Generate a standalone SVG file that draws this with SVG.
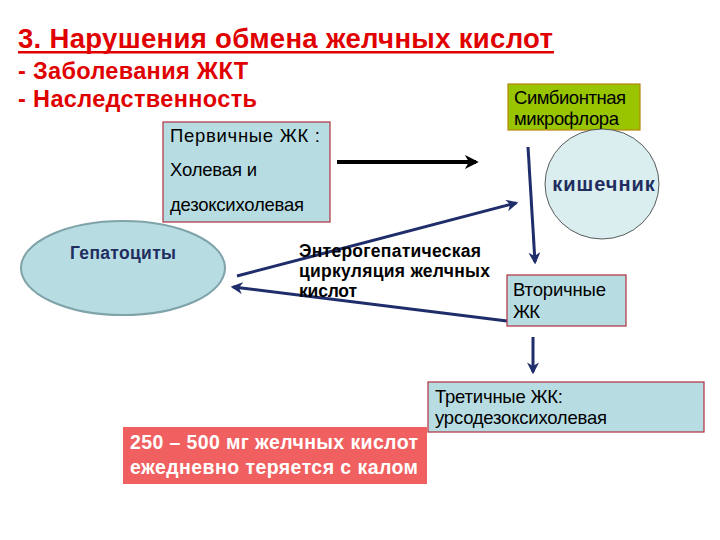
<svg xmlns="http://www.w3.org/2000/svg" width="720" height="540" viewBox="0 0 720 540">
<style>
.red{font-family:"Liberation Sans",Arial,sans-serif;font-weight:bold;fill:#e00000}
.t{font-family:"Liberation Sans",Arial,sans-serif;font-size:18.5px;fill:#000}
.b{font-family:"Liberation Sans",Arial,sans-serif;font-weight:bold}
.box{fill:#b7dde3;stroke:#b03040;stroke-width:1.2}
.nav{stroke:#1f2d6b;stroke-width:3;fill:none}
</style>
<defs>
<marker id="an" viewBox="0 0 10 10" refX="8" refY="5" markerWidth="4" markerHeight="4" orient="auto" markerUnits="strokeWidth"><path d="M0,0 L10,5 L0,10 L3,5 z" fill="#1f2d6b"/></marker>
<marker id="ab" viewBox="0 0 10 10" refX="8" refY="5" markerWidth="3.5" markerHeight="3.5" orient="auto" markerUnits="strokeWidth"><path d="M0,0 L10,5 L0,10 L3,5 z" fill="#000"/></marker>
</defs>
<rect width="720" height="540" fill="#fff"/>
<g id="title">
<text class="red" x="18" y="48" font-size="27.5" textLength="535" lengthAdjust="spacing">3. Нарушения обмена желчных кислот</text>
<rect x="18" y="51" width="536" height="2.5" fill="#e00000"/>
<text class="red" x="18" y="79" font-size="23.5" textLength="230" lengthAdjust="spacing">- Заболевания ЖКТ</text>
<text class="red" x="18" y="107" font-size="23.5" textLength="239" lengthAdjust="spacing">- Наследственность</text>
</g>
<g id="connectors">
<line x1="337" y1="162" x2="476" y2="162" stroke="#000" stroke-width="4" marker-end="url(#ab)"/>
<line class="nav" x1="528" y1="147" x2="535" y2="262" marker-end="url(#an)"/>
<line class="nav" x1="237" y1="276" x2="516" y2="203" marker-end="url(#an)"/>
<line class="nav" x1="507" y1="321" x2="233" y2="287" marker-end="url(#an)"/>
<line class="nav" x1="533" y1="337" x2="533" y2="372" marker-end="url(#an)"/>
</g>
<g id="symbiont">
<rect x="508" y="84" width="132" height="46" fill="#99c400" stroke="#b8860b" stroke-width="1.2"/>
<text class="t" x="514" y="104" textLength="112" lengthAdjust="spacing">Симбионтная</text>
<text class="t" x="514" y="125" textLength="105" lengthAdjust="spacing">микрофлора</text>
</g>
<g id="intestine">
<ellipse cx="602" cy="184" rx="57" ry="55" fill="#daeef0" stroke="#333" stroke-width="0.8"/>
<text x="604" y="191" text-anchor="middle" class="b" font-size="20" letter-spacing="1" fill="#1f2d5f">кишечник</text>
</g>
<g id="primary">
<rect class="box" x="163" y="122" width="167" height="100"/>
<text class="t" x="170" y="142" textLength="150" lengthAdjust="spacing">Первичные ЖК :</text>
<text class="t" x="170" y="176" textLength="87" lengthAdjust="spacing">Холевая и</text>
<text class="t" x="170" y="211" textLength="134" lengthAdjust="spacing">дезоксихолевая</text>
</g>
<g id="hepatocytes">
<ellipse cx="123" cy="268" rx="102" ry="47" fill="#b7dde3" stroke="#7fa3a8" stroke-width="2"/>
<text x="70" y="259" class="b" font-size="17.5" fill="#1f2d5f" textLength="106" lengthAdjust="spacing">Гепатоциты</text>
</g>
<g id="circulation">
<text x="299" y="257" class="b" font-size="17.5" fill="#000" textLength="182" lengthAdjust="spacing">Энтерогепатическая</text>
<text x="299" y="277" class="b" font-size="17.5" fill="#000" textLength="191" lengthAdjust="spacing">циркуляция желчных</text>
<text x="299" y="297" class="b" font-size="17.5" fill="#000" textLength="58" lengthAdjust="spacing">кислот</text>
</g>
<g id="secondary">
<rect class="box" x="507" y="275" width="119" height="51"/>
<text class="t" x="513" y="296" textLength="93" lengthAdjust="spacing">Вторичные</text>
<text class="t" x="513" y="318" textLength="27" lengthAdjust="spacing">ЖК</text>
</g>
<g id="tertiary">
<rect class="box" x="428" y="382" width="276" height="50"/>
<text class="t" x="435" y="403" textLength="128" lengthAdjust="spacing">Третичные ЖК:</text>
<text class="t" x="435" y="424" textLength="172" lengthAdjust="spacing">урсодезоксихолевая</text>
</g>
<g id="loss">
<rect x="123" y="427" width="304" height="57" fill="#f06060"/>
<text x="130" y="449" class="b" font-size="19.5" fill="#fff" textLength="288" lengthAdjust="spacing">250 – 500 мг желчных кислот</text>
<text x="130" y="474" class="b" font-size="19.5" fill="#fff" textLength="288" lengthAdjust="spacing">ежедневно теряется с калом</text>
</g>
</svg>
